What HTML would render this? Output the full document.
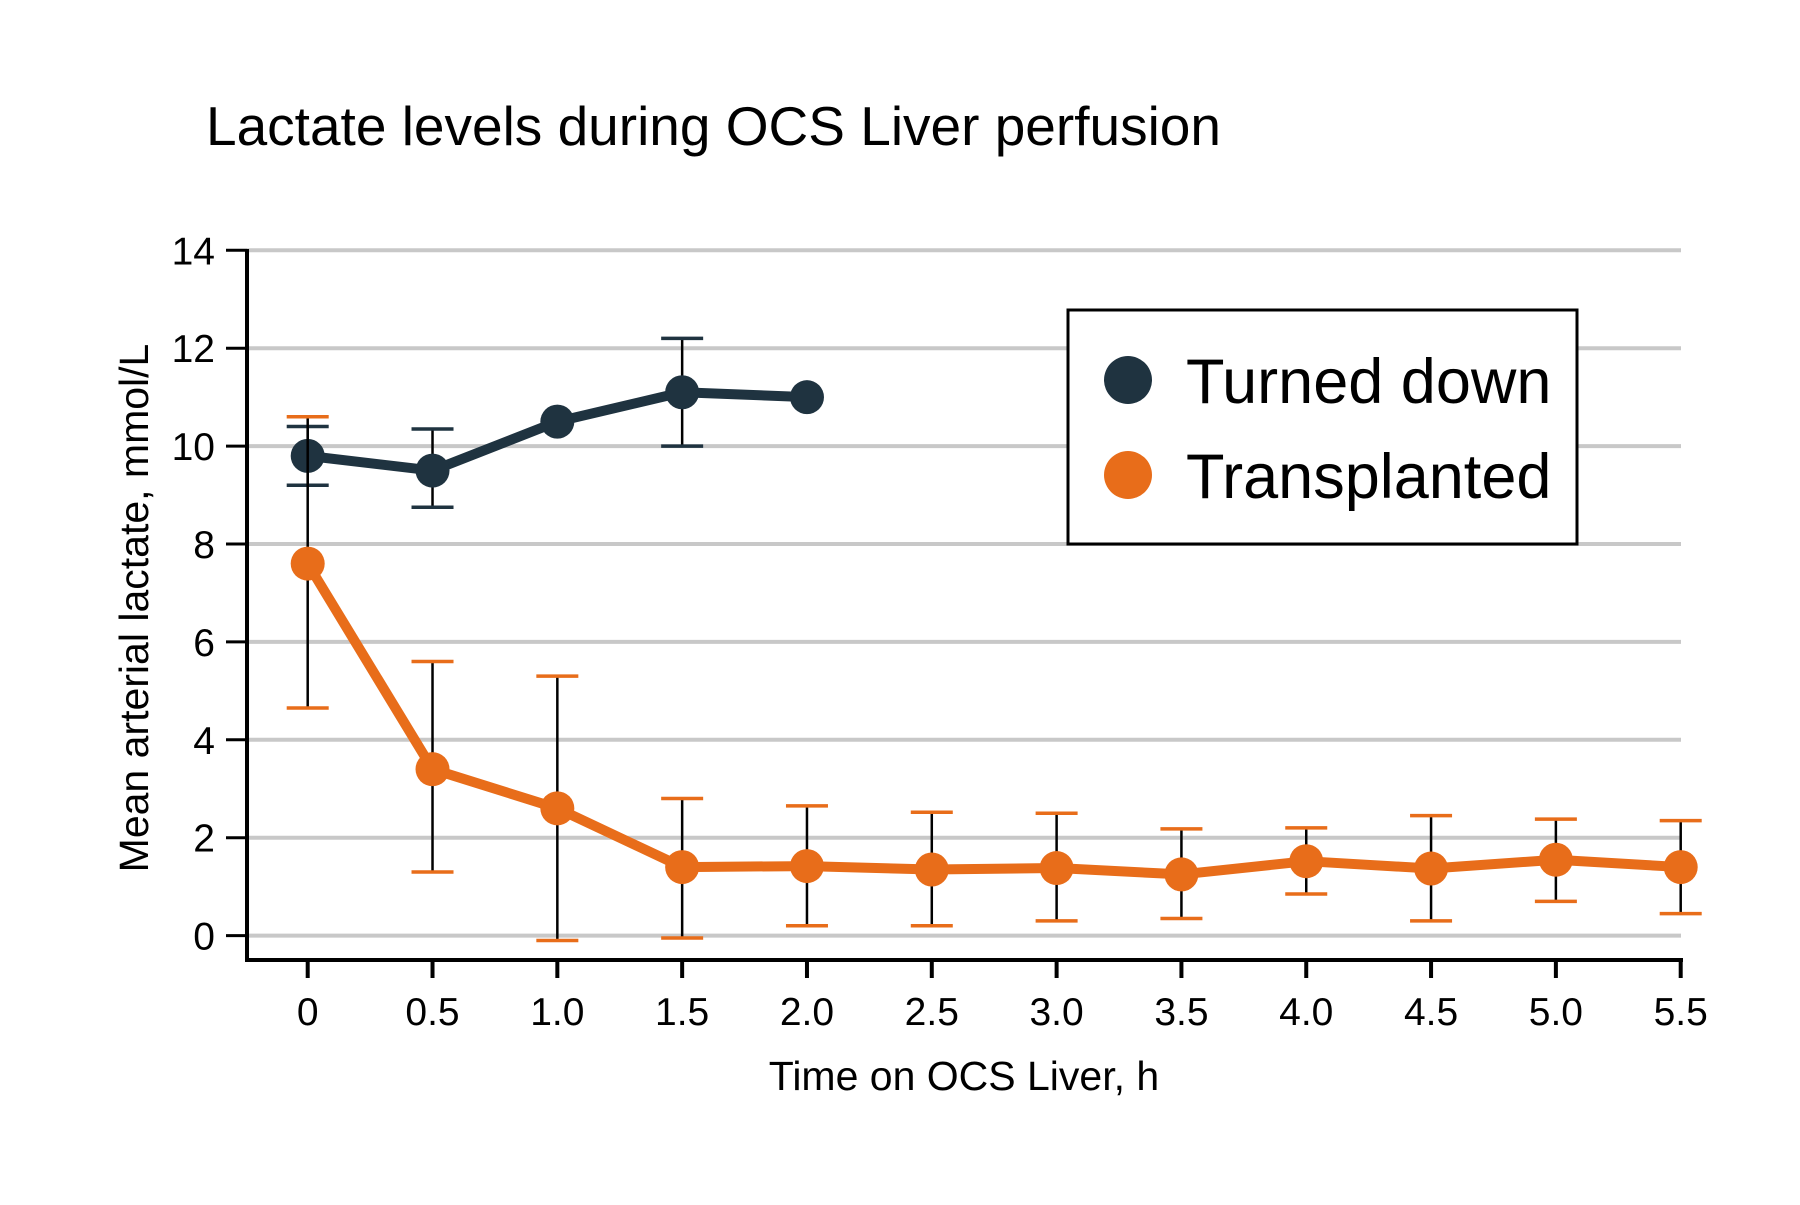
<!DOCTYPE html>
<html><head><meta charset="utf-8"><style>
html,body{margin:0;padding:0;background:#fff;}
svg text{font-family:"Liberation Sans",sans-serif;fill:#000;}
</style></head><body>
<svg id="chart" width="1800" height="1200" viewBox="0 0 1800 1200" xmlns="http://www.w3.org/2000/svg">
<text x="206" y="145" font-size="55">Lactate levels during OCS Liver perfusion</text>
<g id="grid"></g><g id="axes"></g><g id="series"></g>
<text x="964" y="1090" font-size="41" text-anchor="middle">Time on OCS Liver, h</text>
<text transform="translate(148,608) rotate(-90)" font-size="41" text-anchor="middle">Mean arterial lactate, mmol/L</text>
<g>
<rect x="1068" y="310" width="509" height="234" fill="#fff" stroke="#000" stroke-width="3"/>
<circle cx="1128" cy="380" r="24" fill="#1f3340"/>
<text x="1186" y="403" font-size="63">Turned down</text>
<circle cx="1128" cy="475" r="24" fill="#e86d1a"/>
<text x="1186" y="498" font-size="63">Transplanted</text>
</g>
</svg>
<script>
const xTicks=[0,0.5,1.0,1.5,2.0,2.5,3.0,3.5,4.0,4.5,5.0,5.5];
const xTickLabels=["0","0.5","1.0","1.5","2.0","2.5","3.0","3.5","4.0","4.5","5.0","5.5"];
const yTicks=[0,2,4,6,8,10,12,14];
const tdTime=[0,0.5,1.0,1.5,2.0];
const tdMean=[9.8,9.5,10.5,11.1,11.0];
const tdLow=[9.2,8.75,null,10.0,null];
const tdHigh=[10.4,10.35,null,12.2,null];
const trTime=[0,0.5,1.0,1.5,2.0,2.5,3.0,3.5,4.0,4.5,5.0,5.5];
const trMean=[7.6,3.4,2.6,1.4,1.42,1.35,1.38,1.25,1.52,1.37,1.55,1.4];
const trLow=[4.65,1.3,-0.1,-0.05,0.2,0.2,0.3,0.35,0.85,0.3,0.7,0.45];
const trHigh=[10.6,5.6,5.3,2.8,2.65,2.52,2.5,2.18,2.2,2.45,2.38,2.35];

const NS="http://www.w3.org/2000/svg";
const xs=v=>307.7+v*(1680.7-307.7)/5.5;
const ys=v=>935.6-v*(935.6-250.3)/14;
function mk(tag,attrs,parent){const e=document.createElementNS(NS,tag);for(const k in attrs)e.setAttribute(k,attrs[k]);parent.appendChild(e);return e;}
const grid=document.getElementById('grid'),axes=document.getElementById('axes'),ser=document.getElementById('series');
yTicks.forEach(t=>{
  const l=mk('line',{x1:247,x2:1681,y1:ys(t),y2:ys(t),stroke:'#c8c8c8','stroke-width':4},grid);
  
  
  const tk=mk('line',{x1:226,x2:247,y1:ys(t),y2:ys(t),stroke:'#000','stroke-width':3},axes);
  
  
  const tx=mk('text',{x:215,y:ys(t)+14,'font-size':39,'text-anchor':'end'},axes);
  tx.textContent=t;
  
  
});
const ya=mk('line',{x1:247,x2:247,y1:249,y2:962,stroke:'#000','stroke-width':4},axes);


const xa=mk('line',{x1:245,x2:1683,y1:960,y2:960,stroke:'#000','stroke-width':4},axes);


xTicks.forEach((t,i)=>{
  const tk=mk('line',{x1:xs(t),x2:xs(t),y1:960,y2:978,stroke:'#000','stroke-width':4},axes);
  
  
  const tx=mk('text',{x:xs(t),y:1025,'font-size':39,'text-anchor':'middle'},axes);
  tx.textContent=xTickLabels[i];
  
  
});
function drawSeries(name,time,mean,low,high,color){
  const g=mk('g',{},ser);
  
  
  time.forEach((t,i)=>{
    if(low[i]==null)return;
    const x=xs(t);
    const v=mk('line',{x1:x,x2:x,y1:ys(low[i]),y2:ys(high[i]),stroke:'#000','stroke-width':2.5},g);
    
    
    [low[i],high[i]].forEach(val=>{
      const c=mk('line',{x1:x-21,x2:x+21,y1:ys(val),y2:ys(val),stroke:color,'stroke-width':3.5},g);
      
      
    });
  });
  const pts=time.map((t,i)=>xs(t)+','+ys(mean[i])).join(' ');
  const pl=mk('polyline',{points:pts,fill:'none',stroke:color,'stroke-width':10,'stroke-linejoin':'round'},g);
  
  
  time.forEach((t,i)=>{
    const c=mk('circle',{cx:xs(t),cy:ys(mean[i]),r:17,fill:color},g);
    
    
  });
}
drawSeries('turned-down',tdTime,tdMean,tdLow,tdHigh,'#1f3340');
drawSeries('transplanted',trTime,trMean,trLow,trHigh,'#e86d1a');
</script>
</body></html>
